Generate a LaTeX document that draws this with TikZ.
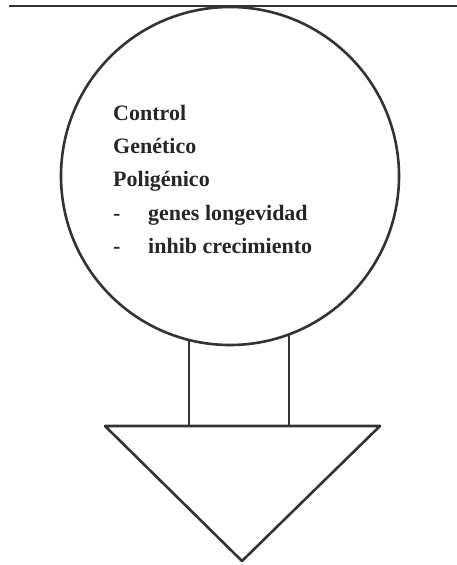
\documentclass[tikz,border=0pt]{standalone}
\usepackage{fontspec}
\setmainfont{Liberation Serif}
\begin{document}
\begin{tikzpicture}[x=1pt,y=-1pt,
  shape line/.style={draw=black!80,line width=2.6pt},
  label text/.style={font=\fontsize{22}{26}\selectfont\bfseries,anchor=base west,inner sep=0pt,text=black!85}]
\useasboundingbox (0,0) rectangle (457,565);
% top line
\coordinate (tl) at (9,6);
\coordinate (tr) at (457,6);
\draw[shape line] (tl) -- (tr);
% circle
\node[shape line,circle,minimum size=338pt,inner sep=0pt] (c) at (230,176) {};
% text
\node[label text] (t1) at (113,120) {Control};
\node[label text] (t2) at (113,153) {Genético};
\node[label text] (t3) at (113,186) {Poligénico};
\node[label text] (d1) at (113,220) {-};
\node[label text] (t4) at (148,220) {genes longevidad};
\node[label text] (d2) at (113,253) {-};
\node[label text] (t5) at (148,253) {inhib crecimiento};
% triangle
\coordinate (al) at (105,426);
\coordinate (ar) at (380,426);
\coordinate (ap) at (242,561);
\draw[shape line,line join=round] (al) -- (ar) -- (ap) -- cycle;
% stems
\coordinate (s1a) at (189,340);
\coordinate (s1b) at (189,426);
\coordinate (s2a) at (289,334);
\coordinate (s2b) at (289,426);
\draw[shape line] (s1a) -- (s1b);
\draw[shape line] (s2a) -- (s2b);
\end{tikzpicture}
\end{document}
